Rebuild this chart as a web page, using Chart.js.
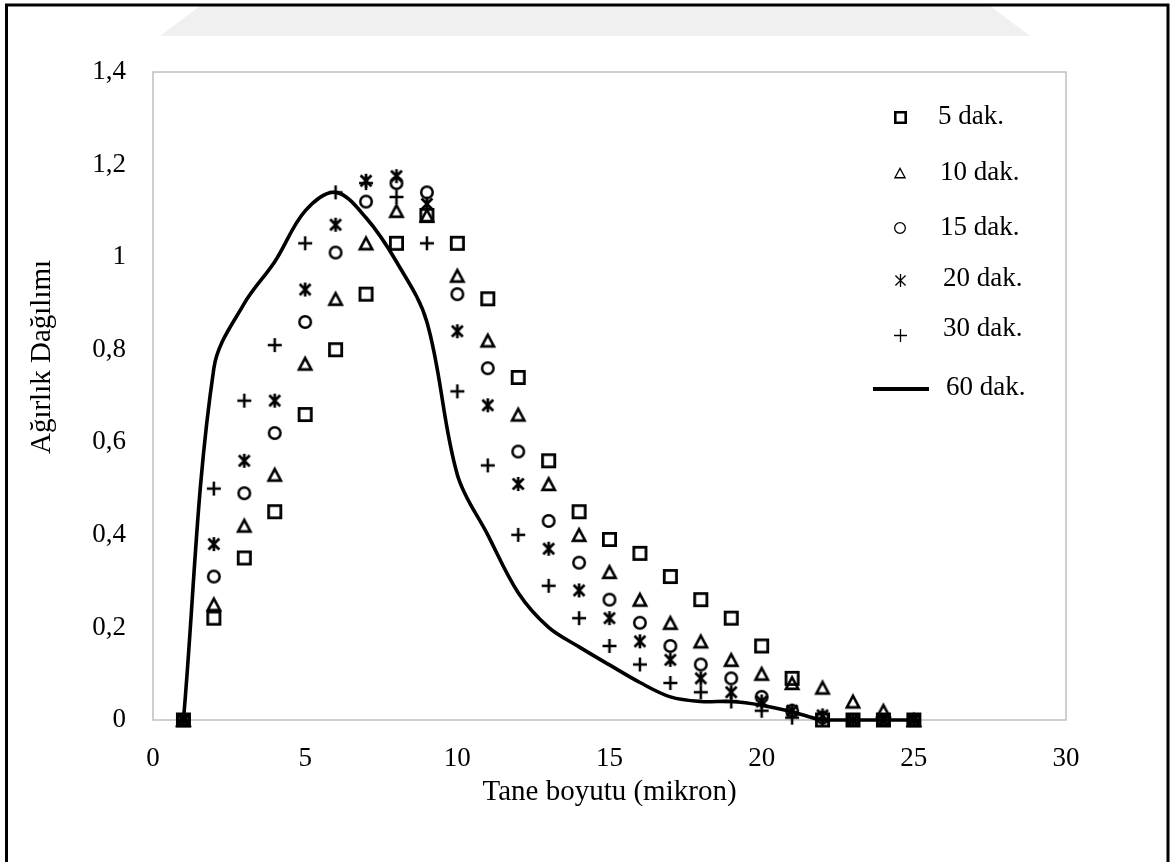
<!DOCTYPE html>
<html>
<head>
<meta charset="utf-8">
<script src="https://cdn.jsdelivr.net/npm/chart.js@4.4.1/dist/chart.umd.min.js"></script>
<style>
html,body{margin:0;padding:0;background:#fff;}
#wrap{width:1172px;height:862px;position:relative;}
canvas{display:block;}
</style>
</head>
<body>
<div id="wrap"><canvas id="c" width="1172" height="862"></canvas></div>
<script>
// ---- data ----
const sizes = [1,2,3,4,5,6,7,8,9,10,11,12,13,14,15,16,17,18,19,20,21,22,23,24,25];
const dak5  = [0,0.22,0.35,0.45,0.66,0.80,0.92,1.03,1.09,1.03,0.91,0.74,0.56,0.45,0.39,0.36,0.31,0.26,0.22,0.16,0.09,0,0,0,0];
const dak10 = [0,0.25,0.42,0.53,0.77,0.91,1.03,1.10,1.09,0.96,0.82,0.66,0.51,0.40,0.32,0.26,0.21,0.17,0.13,0.10,0.08,0.07,0.04,0.02,0];
const dak15 = [0,0.31,0.49,0.62,0.86,1.01,1.12,1.16,1.14,0.92,0.76,0.58,0.43,0.34,0.26,0.21,0.16,0.12,0.09,0.05,0.02,0.005,0,0,0];
const dak20 = [0,0.38,0.56,0.69,0.93,1.07,1.165,1.175,1.115,0.84,0.68,0.51,0.37,0.28,0.22,0.17,0.13,0.09,0.06,0.04,0.02,0.01,0,0,0];
const dak30 = [0,0.50,0.69,0.81,1.03,1.14,1.16,1.13,1.03,0.71,0.55,0.40,0.29,0.22,0.16,0.12,0.08,0.06,0.04,0.02,0.005,0,0,0,0];
const dak60 = [0,0.76,0.90,0.99,1.10,1.14,1.085,0.99,0.86,0.53,0.40,0.275,0.20,0.158,0.119,0.081,0.05,0.04,0.04,0.032,0.018,0,0,0,0];
const seriesLabels = ['5 dak.','10 dak.','15 dak.','20 dak.','30 dak.','60 dak.'];
const xTickLabels = ['0','5','10','15','20','25','30'];
const yTickLabels = ['0','0,2','0,4','0,6','0,8','1','1,2','1,4'];
const xTitle = 'Tane boyutu (mikron)';
const yTitle = 'Ağırlık Dağılımı';

const FONT = '"Liberation Serif", "Times New Roman", serif';

// ---- marker images ----
function makeMarker(type, size, lw) {
  const pad = 4;
  const n = Math.ceil(size + pad * 2);
  const c = document.createElement('canvas');
  c.width = n; c.height = n;
  const g = c.getContext('2d');
  const m = n / 2, r = size / 2;
  g.strokeStyle = '#000';
  g.lineWidth = lw;
  g.lineJoin = 'miter';
  g.beginPath();
  if (type === 'square') {
    g.rect(m - r + lw / 2, m - r + lw / 2, size - lw, size - lw);
  } else if (type === 'triangle') {
    const h = size * 0.9;
    g.moveTo(m, m - h / 2 + lw * 0.6);
    g.lineTo(m + r - lw * 0.7, m + h / 2 - lw / 2);
    g.lineTo(m - r + lw * 0.7, m + h / 2 - lw / 2);
    g.closePath();
  } else if (type === 'circle') {
    g.arc(m, m, r - lw / 2, 0, Math.PI * 2);
  } else if (type === 'asterisk') {
    const d = r * 0.78;
    g.moveTo(m - d, m - d); g.lineTo(m + d, m + d);
    g.moveTo(m + d, m - d); g.lineTo(m - d, m + d);
    g.moveTo(m, m - r); g.lineTo(m, m + r);
  } else if (type === 'plus') {
    g.moveTo(m - r, m); g.lineTo(m + r, m);
    g.moveTo(m, m - r); g.lineTo(m, m + r);
  }
  g.stroke();
  return c;
}

const mk = {
  square: makeMarker('square', 15, 2.8),
  triangle: makeMarker('triangle', 16, 2.6),
  circle: makeMarker('circle', 14, 2.5),
  asterisk: makeMarker('asterisk', 14, 2.7),
  plus: makeMarker('plus', 14, 2.5)
};
const lg = {
  square: makeMarker('square', 13, 2.6),
  triangle: makeMarker('triangle', 12, 1.3),
  circle: makeMarker('circle', 12, 1.3),
  asterisk: makeMarker('asterisk', 13, 1.3),
  plus: makeMarker('plus', 13, 1.3)
};

function pts(ys) { return sizes.map((x, i) => ({x: x, y: ys[i]})); }

function markerSet(label, ys, img) {
  return {
    label: label, data: pts(ys), showLine: false,
    pointStyle: img, pointRadius: 7, pointHoverRadius: 7,
    borderColor: '#000', backgroundColor: '#000', clip: false
  };
}

// ---- plugins ----
const pagePlugin = {
  id: 'page',
  beforeDraw(chart) {
    const ctx = chart.ctx;
    ctx.save();
    ctx.fillStyle = '#fff';
    ctx.fillRect(0, 0, chart.width, chart.height);
    // faint watermark band
    ctx.fillStyle = '#f0f0f0';
    ctx.beginPath();
    ctx.moveTo(160, 36); ctx.lineTo(200, 6); ctx.lineTo(990, 6); ctx.lineTo(1030, 36);
    ctx.closePath(); ctx.fill();
    // page frame
    ctx.strokeStyle = '#000';
    ctx.lineWidth = 3;
    ctx.beginPath();
    ctx.moveTo(6.5, 870); ctx.lineTo(6.5, 5); ctx.lineTo(1168, 5); ctx.lineTo(1168, 870);
    ctx.stroke();
    ctx.restore();
  },
  beforeDatasetsDraw(chart) {
    const a = chart.chartArea, ctx = chart.ctx;
    ctx.save();
    ctx.strokeStyle = '#bfbfbf';
    ctx.lineWidth = 1.5;
    ctx.strokeRect(a.left, a.top, a.right - a.left, a.bottom - a.top);
    ctx.restore();
  },
  afterDraw(chart) {
    const ctx = chart.ctx;
    ctx.save();
    // y title
    ctx.fillStyle = '#000';
    ctx.font = '29px ' + FONT;
    ctx.textAlign = 'center';
    ctx.textBaseline = 'middle';
    ctx.translate(42, 357);
    ctx.rotate(-Math.PI / 2);
    ctx.fillText(yTitle, 0, 0);
    ctx.restore();
    // legend
    ctx.save();
    ctx.fillStyle = '#000';
    ctx.font = '27px ' + FONT;
    ctx.textAlign = 'left';
    ctx.textBaseline = 'middle';
    const items = [
      {img: lg.square, mx: 900, my: 117, tx: 938, ty: 117},
      {img: lg.triangle, mx: 900, my: 173, tx: 940, ty: 173},
      {img: lg.circle, mx: 900, my: 228, tx: 940, ty: 228},
      {img: lg.asterisk, mx: 900, my: 280, tx: 943, ty: 279},
      {img: lg.plus, mx: 900, my: 335, tx: 943, ty: 329}
    ];
    items.forEach((it, i) => {
      ctx.drawImage(it.img, Math.round(it.mx - it.img.width / 2), Math.round(it.my - it.img.height / 2));
      ctx.fillText(seriesLabels[i], it.tx, it.ty);
    });
    ctx.strokeStyle = '#000';
    ctx.lineWidth = 4;
    ctx.beginPath(); ctx.moveTo(873, 389); ctx.lineTo(929, 389); ctx.stroke();
    ctx.fillText(seriesLabels[5], 946, 388);
    ctx.restore();
  }
};

new Chart(document.getElementById('c'), {
  type: 'scatter',
  data: {
    datasets: [
      {
        label: seriesLabels[5], data: pts(dak60), showLine: true,
        borderColor: '#000', borderWidth: 3.6, tension: 0.35,
        pointRadius: 0, pointHoverRadius: 0, clip: false, order: 6
      },
      markerSet(seriesLabels[0], dak5, mk.square),
      markerSet(seriesLabels[1], dak10, mk.triangle),
      markerSet(seriesLabels[2], dak15, mk.circle),
      markerSet(seriesLabels[3], dak20, mk.asterisk),
      markerSet(seriesLabels[4], dak30, mk.plus)
    ]
  },
  options: {
    responsive: false,
    animation: false,
    devicePixelRatio: 1,
    layout: { padding: { left: 0, top: 72, right: 106, bottom: 0 } },
    plugins: { legend: { display: false }, tooltip: { enabled: false } },
    scales: {
      x: {
        type: 'linear', min: 0, max: 30,
        grid: { display: false, drawTicks: false },
        border: { display: false },
        ticks: {
          stepSize: 5, padding: 23, color: '#000', maxRotation: 0,
          font: { family: FONT, size: 27 },
          callback: (v, i) => xTickLabels[i]
        },
        title: {
          display: true, text: xTitle, color: '#000',
          font: { family: FONT, size: 29 },
          padding: { top: 0, bottom: 52 }
        },
        afterFit: (s) => { s.height = 142; }
      },
      y: {
        type: 'linear', min: 0, max: 1.4,
        grid: { display: false, drawTicks: false },
        border: { display: false },
        ticks: {
          stepSize: 0.2, padding: 27, color: '#000',
          font: { family: FONT, size: 27 },
          callback: (v, i) => yTickLabels[i]
        },
        afterFit: (s) => { s.width = 153; }
      }
    }
  },
  plugins: [pagePlugin]
});
</script>
</body>
</html>
